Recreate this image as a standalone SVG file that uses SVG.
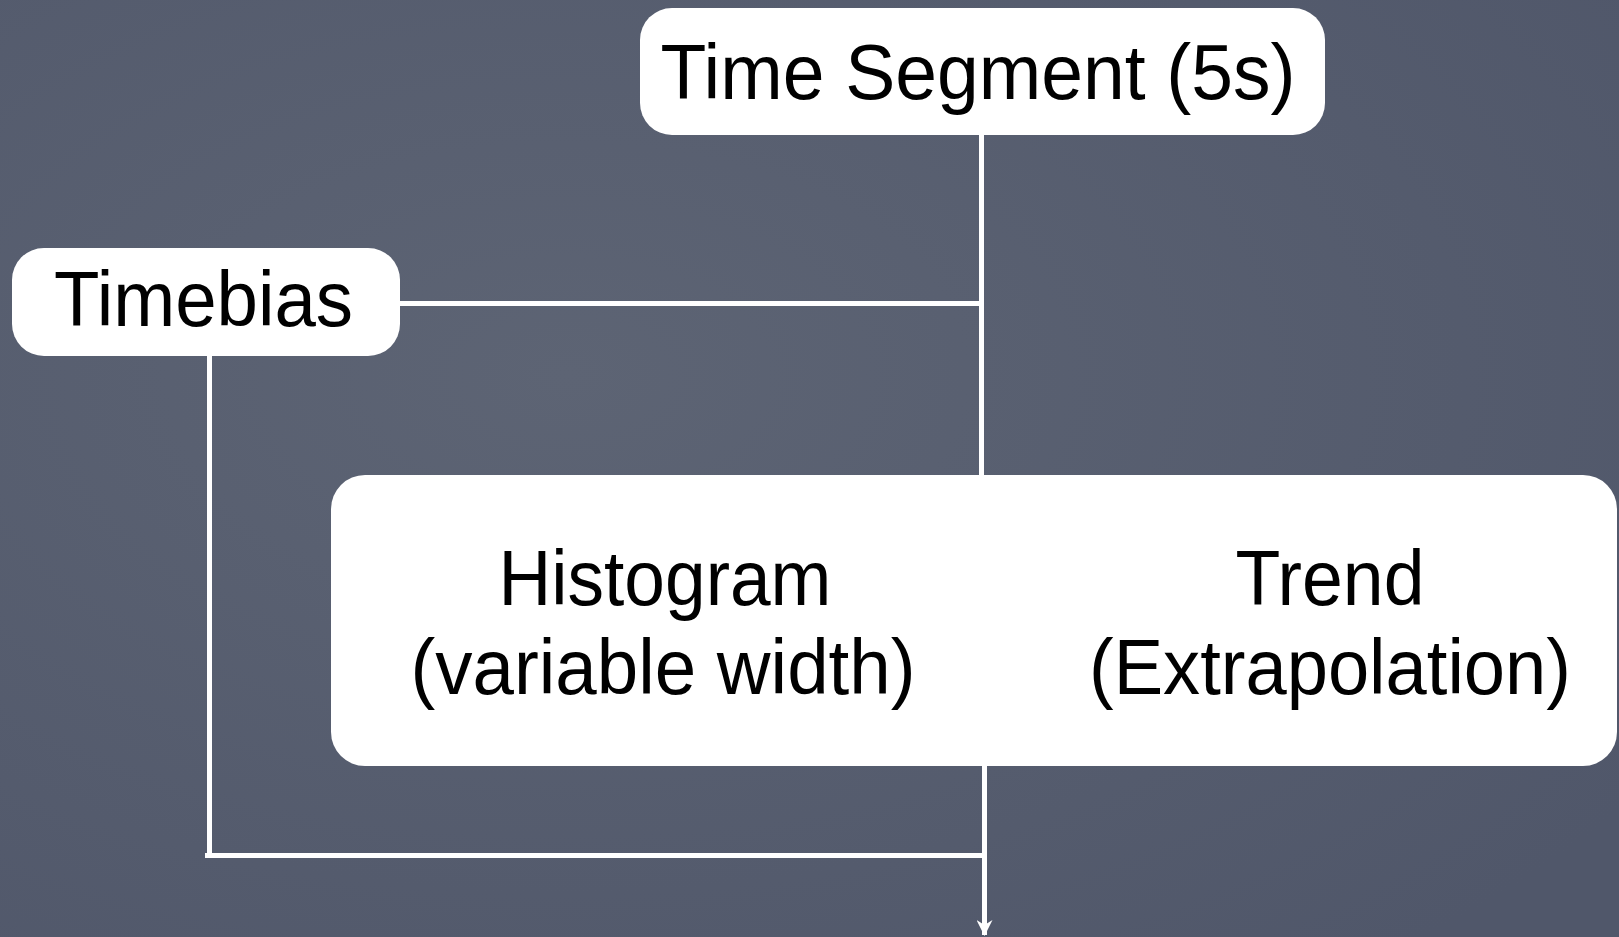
<svg xmlns="http://www.w3.org/2000/svg" width="1619" height="937" viewBox="0 0 1619 937">
  <defs>
    <radialGradient id="bg1" cx="0.35" cy="0.4" r="0.8">
      <stop offset="0" stop-color="#5d6474"/>
      <stop offset="1" stop-color="#50576a"/>
    </radialGradient>
    <marker id="arrow" viewBox="0 0 16 16" refX="15" refY="8" markerWidth="16" markerHeight="16" markerUnits="userSpaceOnUse" orient="auto">
      <path d="M0,0 L16,8 L0,16 L5,8 Z" fill="#ffffff"/>
    </marker>
    <style>
      .box { fill: #ffffff; }
      .lbl { font-family: "Liberation Sans", Arial, Helvetica, sans-serif; font-size: 78px; fill: #000000; }
      .wire { stroke: #ffffff; stroke-width: 5; fill: none; }
    </style>
  </defs>
  <rect x="0" y="0" width="1619" height="937" fill="url(#bg1)"/>

  <g id="connectors">
    <line class="wire" x1="981.5" y1="134" x2="981.5" y2="476"/>
    <line class="wire" x1="398" y1="303.5" x2="981.5" y2="303.5"/>
    <line class="wire" x1="209.5" y1="355" x2="209.5" y2="857"/>
    <line class="wire" x1="205" y1="855.5" x2="984.5" y2="855.5"/>
    <line class="wire" x1="984.5" y1="766" x2="984.5" y2="935" stroke-width="4" marker-end="url(#arrow)"/>
  </g>

  <g id="time-segment">
    <rect class="box" x="640" y="8" width="685" height="127" rx="32" ry="32"/>
    <text class="lbl" x="978" y="99" text-anchor="middle" textLength="635" lengthAdjust="spacingAndGlyphs">Time Segment (5s)</text>
  </g>

  <g id="timebias">
    <rect class="box" x="12" y="248" width="388" height="108" rx="32" ry="32"/>
    <text class="lbl" x="54" y="326" textLength="299" lengthAdjust="spacingAndGlyphs">Timebias</text>
  </g>

  <g id="methods">
    <rect class="box" x="331" y="475" width="1286" height="291" rx="34" ry="34"/>
    <text class="lbl" x="665" y="605" text-anchor="middle" textLength="333" lengthAdjust="spacingAndGlyphs">Histogram</text>
    <text class="lbl" x="663" y="694" text-anchor="middle" textLength="505" lengthAdjust="spacingAndGlyphs">(variable width)</text>
    <text class="lbl" x="1330" y="605" text-anchor="middle" textLength="189" lengthAdjust="spacingAndGlyphs">Trend</text>
    <text class="lbl" x="1330" y="694" text-anchor="middle" textLength="482" lengthAdjust="spacingAndGlyphs">(Extrapolation)</text>
  </g>
</svg>
